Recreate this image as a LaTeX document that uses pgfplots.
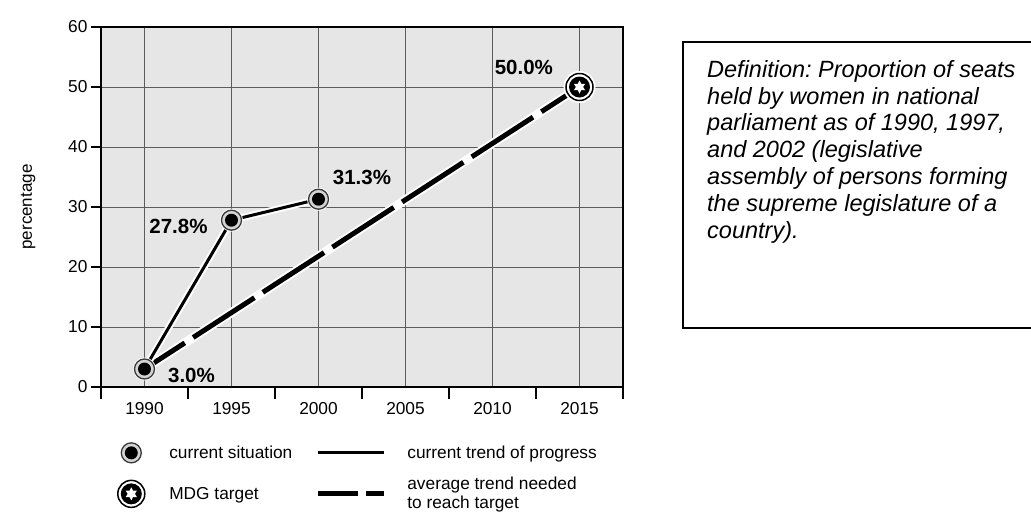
\documentclass[border=0pt]{standalone}
\usepackage{fontspec}
\setmainfont{Liberation Sans}
\usepackage{pgfplots}
\pgfplotsset{compat=1.18}
\definecolor{bggray}{HTML}{E6E6E6}
\definecolor{gridgray}{HTML}{5C5C5C}
\definecolor{ringgray}{HTML}{D4D4D4}
\definecolor{ringdark}{HTML}{3A3A3A}

\pgfdeclareplotmark{cursit}{%
  \pgfpathcircle{\pgfpointorigin}{11.5pt}%
  \pgfsetfillcolor{white}\pgfusepath{fill}%
  \pgfpathcircle{\pgfpointorigin}{10pt}%
  \pgfsetlinewidth{1.3pt}\pgfsetstrokecolor{ringdark}\pgfsetfillcolor{ringgray}%
  \pgfusepath{fill,stroke}%
  \pgfpathcircle{\pgfpointorigin}{6.5pt}%
  \pgfsetfillcolor{black}\pgfusepath{fill}%
}
\pgfdeclareplotmark{mdg}{%
  \pgfpathcircle{\pgfpointorigin}{16pt}%
  \pgfsetfillcolor{white}\pgfusepath{fill}%
  \pgfpathcircle{\pgfpointorigin}{13.5pt}%
  \pgfsetlinewidth{1.5pt}\pgfsetstrokecolor{black}\pgfsetfillcolor{white}%
  \pgfusepath{fill,stroke}%
  \pgfpathcircle{\pgfpointorigin}{10.5pt}%
  \pgfsetfillcolor{black}\pgfusepath{fill}%
  \pgfpathmoveto{\pgfpointpolar{90}{6.5pt}}%
  \pgfpathlineto{\pgfpointpolar{120}{3.6pt}}%
  \pgfpathlineto{\pgfpointpolar{150}{6.5pt}}%
  \pgfpathlineto{\pgfpointpolar{180}{3.6pt}}%
  \pgfpathlineto{\pgfpointpolar{210}{6.5pt}}%
  \pgfpathlineto{\pgfpointpolar{240}{3.6pt}}%
  \pgfpathlineto{\pgfpointpolar{270}{6.5pt}}%
  \pgfpathlineto{\pgfpointpolar{300}{3.6pt}}%
  \pgfpathlineto{\pgfpointpolar{330}{6.5pt}}%
  \pgfpathlineto{\pgfpointpolar{0}{3.6pt}}%
  \pgfpathlineto{\pgfpointpolar{30}{6.5pt}}%
  \pgfpathlineto{\pgfpointpolar{60}{3.6pt}}%
  \pgfpathclose
  \pgfsetfillcolor{white}\pgfusepath{fill}%
}

\begin{document}
\frenchspacing
\begin{tikzpicture}
\useasboundingbox (0pt,0pt) rectangle (1031pt,-516pt);
\begin{axis}[
  at={(101pt,-387pt)}, anchor=south west,
  scale only axis, width=522pt, height=360pt,
  xmin=1987.5, xmax=2017.5, ymin=0, ymax=60,
  xtick={1990,1995,...,2015}, ytick={0,10,...,60},
  minor xtick={1987.5,1992.5,...,2017.5},
  xmajorgrids, ymajorgrids,
  major grid style={gridgray, line width=0.9pt},
  tick align=outside, tick pos=left,
  major tick length=10pt, minor tick length=12pt,
  tick style={black, line width=1.3pt},
  major x tick style={draw=none},
  axis line style={black, line width=1.3pt},
  axis background/.style={fill=bggray},
  ticklabel style={font=\fontsize{17.3}{20}\selectfont},
  x tick label style={yshift=-2pt},
  /pgf/number format/assume math mode=true,
  /pgf/number format/1000 sep={},
  ylabel={percentage},
  ylabel style={font=\fontsize{17}{20}\selectfont, at={(axis description cs:-0.119,0.5)}, anchor=south},
  clip=false,
  legend columns=2,
  legend cell align=left,
  legend style={at={(axis description cs:0.027,-0.251)}, anchor=west,
    draw=none, fill=none, inner sep=0pt,
    nodes={font=\fontsize{17.3}{19}\selectfont, inner sep=3pt},
    cells={align=left},
    row sep=10pt,
    /tikz/column 1/.style={column sep=19pt},
    /tikz/column 2/.style={column sep=20pt},
    /tikz/column 3/.style={column sep=18pt}},
]
% target trend (halo + dashed)
\addplot[forget plot, white, line width=9pt] coordinates {(1990,3.0) (2015,50.0)};
\addplot[forget plot, black, line width=5pt, dash pattern=on 73pt off 10pt, dash phase=25pt] coordinates {(1990,3.0) (2015,50.0)};
% current trend (halo + solid)
\addplot[forget plot, white, line width=7pt] coordinates {(1990,3.0) (1995,27.8) (2000,31.3)};
\addplot[forget plot, black, line width=3pt] coordinates {(1990,3.0) (1995,27.8) (2000,31.3)};
% markers
\addplot[forget plot, only marks, mark=cursit] coordinates {(1990,3.0) (1995,27.8) (2000,31.3)};
\addplot[forget plot, only marks, mark=mdg] coordinates {(2015,50.0)};

\addlegendimage{legend image code/.code={\pgfuseplotmark{cursit}}}
\addlegendentry{current situation}
\addlegendimage{legend image code/.code={\draw[black, line width=3pt] (0pt,0pt) -- (66pt,0pt);}}
\addlegendentry{current trend of progress}
\addlegendimage{legend image code/.code={\pgfuseplotmark{mdg}}}
\addlegendentry{MDG target}
\addlegendimage{legend image code/.code={\draw[black, line width=5pt, dash pattern=on 40pt off 8pt] (0pt,0pt) -- (66pt,0pt);}}
\addlegendentry{average trend needed\\to reach target}

\node[font=\bfseries\fontsize{20.5}{23}\selectfont] at (axis cs:1992.7,2.0) {3.0\%};
\node[font=\bfseries\fontsize{20.5}{23}\selectfont] at (axis cs:1991.95,26.8) {27.8\%};
\node[font=\bfseries\fontsize{20.5}{23}\selectfont] at (axis cs:2002.5,35) {31.3\%};
\node[font=\bfseries\fontsize{20.5}{23}\selectfont] at (axis cs:2011.8,53.2) {50.0\%};
\end{axis}
\draw[line width=2pt] (683pt,-42pt) rectangle (1045pt,-328pt);
\node[anchor=north west, inner sep=0pt, align=left, font=\itshape\fontsize{23.5}{26.8}\selectfont] at (707pt,-60pt)
{Definition: Proportion of seats\\held by women in national\\parliament as of 1990, 1997,\\and 2002 (legislative\\assembly of persons forming\\the supreme legislature of a\\country).};
\end{tikzpicture}
\end{document}
